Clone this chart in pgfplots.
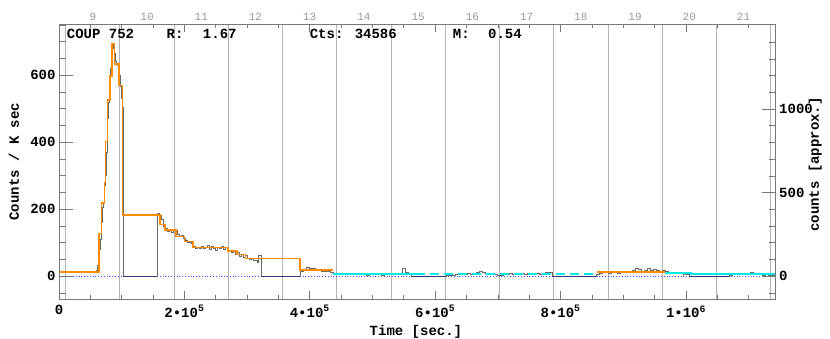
\documentclass[border=0pt]{standalone}
\usepackage{fontspec}
\setmainfont{Liberation Mono}
\usepackage{pgfplots}
\usepackage{pgfplotstable}
\pgfplotsset{compat=1.18}

\definecolor{bbo}{RGB}{255,140,0}
\definecolor{lcg}{RGB}{105,105,105}
\definecolor{cy}{RGB}{0,235,235}
\definecolor{gapc}{RGB}{55,55,120}
\definecolor{zl}{RGB}{70,70,255}
\definecolor{dayl}{RGB}{180,180,180}
\definecolor{frm}{RGB}{120,120,120}

% binned light curve (counts / ksec); zeros are data gaps
\pgfplotstableread{
t v
0 12
4800 11
9600 13
14400 12
19200 14
24000 12
28800 15
33600 13
38400 14
43200 12
48000 15
52800 14
57600 13
59200 18
60800 32
62400 45
64000 80
65600 110
67200 160
68800 205
70400 220
72000 270
73600 300
75200 370
76800 470
78400 520
80000 590
81600 620
83200 655
84800 680
86400 690
88000 665
89600 640
91200 636
92800 630
94400 622
96000 600
97600 566
99200 530
100800 505
102400 0
156500 188
159700 182
162900 170
166100 150
169300 142
172500 135
175700 140
178900 130
182100 136
185300 138
188500 125
191700 118
194900 122
198100 112
201300 108
204500 100
207700 102
210900 98
214100 88
217300 82
220500 86
223700 84
226900 90
230100 82
233300 86
236500 92
239700 80
242900 88
246100 84
249300 76
252500 86
255700 82
258900 90
262100 80
265300 86
268500 78
271700 74
274900 70
278100 78
281300 66
284500 72
287700 60
290900 66
294100 56
297300 62
300500 52
303700 50
306900 54
310100 46
313300 48
316500 42
318000 62
322800 0
384200 15
389000 20
393800 26
398600 22
403400 24
408200 18
413000 20
417800 16
422600 14
427400 15
432200 12
437000 10
441800 8
446600 9
451400 7
456200 8
461000 6
465800 9
470600 7
475400 5
480200 8
485000 6
489800 4
494600 7
499400 5
504200 6
509000 8
513800 4
518600 6
523400 5
528200 7
533000 8
537800 9
542600 10
547400 22
552200 12
557000 8
562100 0
617200 2
622000 4
626800 3
631600 6
636400 5
641200 8
646000 6
650800 9
655600 7
660400 10
665200 12
670000 16
674800 11
679600 9
684400 7
689200 8
694000 5
698800 4
703600 3
708400 6
713200 5
718000 8
722800 6
727600 7
732400 10
737200 8
742000 6
746800 9
751600 7
756400 8
761200 10
766000 7
770800 9
775600 11
780400 12
786600 0
856700 5
861500 8
866300 12
871100 16
875900 10
880700 14
885500 12
890300 9
895100 13
899900 11
904700 15
909500 14
914300 18
919100 22
923900 20
928700 16
933500 19
938300 24
943100 18
947900 20
952700 17
957500 15
962300 19
967100 14
971900 12
976700 10
981500 9
986300 11
991100 8
995900 6
1000700 5
1004800 0
1068500 3
1073300 5
1078100 6
1082900 8
1087700 6
1092500 7
1097300 10
1102100 12
1106900 8
1111700 5
1116500 6
1121300 4
1126100 5
1130900 3
1135700 4
1143000 3
}\lc

% Bayesian blocks
\pgfplotstableread{
t v
0 13
63700 128
68000 218
72100 280
73700 402
76900 526
81200 598
84400 693
88700 633
95500 569
101400 183
160800 155
168800 138
186300 118
200600 103
213900 85
269600 75
283900 64
297800 52
384300 18
436800 18
}\bb

\pgfplotsset{
  frame/.style={scale only axis, width=716.7pt, height=274.7pt,
    xmin=0, xmax=1143000, tick align=inside, scaled ticks=false,
    axis line style={frm, line width=0.9pt},
    every tick/.style={frm, line width=0.8pt},
    tick label style={font=\fontsize{14}{16}\selectfont\bfseries},
    label style={font=\fontsize{14}{16}\selectfont\bfseries}},
}

\begin{document}
\begin{tikzpicture}
% main axis: data, x ticks, left labels
\begin{axis}[frame, ymin=-68, ymax=752,
  xtick={0,200000,400000,600000,800000,1000000},
  xticklabels={0,2•10\textsuperscript{5},4•10\textsuperscript{5},6•10\textsuperscript{5},8•10\textsuperscript{5},1•10\textsuperscript{6}},
  xticklabel style={yshift=-3pt},
  minor xtick={50000,100000,150000,250000,300000,350000,450000,500000,550000,650000,700000,750000,850000,900000,950000,1050000,1100000},
  major tick length=8pt, minor tick length=4pt,
  xtick pos=both, xticklabel pos=bottom,
  ytick={0,200,400,600}, yticklabels={0,200,400,600},
  ytick pos=left, ytick style={draw=none},
  extra x ticks={10670,97150,183630,270110,356590,443070,529550,616030,702510,788990,875470,961950,1048430,1134910},
  extra x tick labels={},
  extra x tick style={grid=major, major grid style={dayl, line width=0.9pt}, tick style={draw=none}},
  xlabel={Time [sec.]}, ylabel={Counts / K sec},
  xlabel style={at={(axis description cs:0.498,-0.118)}, anchor=center},
  ylabel style={at={(axis description cs:-0.063,0.5)}, anchor=center},
]
\addplot[zl, dotted, line width=0.8pt] coordinates {(0,0) (1143000,0)};
\addplot[const plot mark left, lcg, line width=0.7pt] table {\lc};
\addplot[gapc, line width=0.9pt, unbounded coords=jump] coordinates {
  (102400,0) (156500,0) (nan,nan)
  (322800,0) (384200,0) (nan,nan)
  (562100,0) (617200,0) (nan,nan)
  (786600,0) (856700,0) (nan,nan)
  (1004800,0) (1068500,0)};
\addplot[const plot mark left, bbo, line width=1.4pt] table {\bb};
\addplot[const plot mark left, bbo, line width=1.4pt] coordinates {(858300,13) (966600,13)};
\addplot[const plot mark left, cy, line width=2pt] coordinates {(436800,8) (569600,8)};
\addplot[const plot mark left, cy, line width=2pt, dash pattern=on 9pt off 5pt] coordinates {(569600,8) (858300,8)};
\addplot[const plot mark left, cy, line width=2pt] coordinates {(966600,9) (1008000,9) (1008000,6) (1143000,6)};
\node[anchor=base west, inner sep=0, font=\fontsize{14}{16}\selectfont\bfseries] at (axis cs:12260,710) {COUP 752};
\node[anchor=base west, inner sep=0, font=\fontsize{14}{16}\selectfont\bfseries] at (axis cs:171500,710) {R:};
\node[anchor=base west, inner sep=0, font=\fontsize{14}{16}\selectfont\bfseries] at (axis cs:229300,710) {1.67};
\node[anchor=base west, inner sep=0, font=\fontsize{14}{16}\selectfont\bfseries] at (axis cs:399700,710) {Cts:};
\node[anchor=base west, inner sep=0, font=\fontsize{14}{16}\selectfont\bfseries] at (axis cs:471400,710) {34586};
\node[anchor=base west, inner sep=0, font=\fontsize{14}{16}\selectfont\bfseries] at (axis cs:627900,710) {M:};
\node[anchor=base west, inner sep=0, font=\fontsize{14}{16}\selectfont\bfseries] at (axis cs:684100,710) {0.54};
\end{axis}
% left y ticks
\begin{axis}[frame, ymin=-68, ymax=752, xtick=\empty,
  ytick={0,200,400,600}, yticklabels={}, ytick pos=left,
  minor ytick={-50,50,100,150,250,300,350,450,500,550,650,700,750},
  major tick length=14pt, minor tick length=7pt]
\end{axis}
% right y axis (approx. counts)
\begin{axis}[frame, ymin=-136, ymax=1507, axis x line=none, axis y line*=right,
  ytick={0,500,1000}, yticklabels={0,500,1000},
  minor ytick={-100,100,200,300,400,600,700,800,900,1100,1200,1300,1400},
  major tick length=14pt, minor tick length=7pt,
  ylabel={counts [approx.]},
  ylabel style={at={(axis description cs:1.055,0.49)}, anchor=center}]
\end{axis}
% top axis (days)
\begin{axis}[frame, ymin=0, ymax=1, axis y line=none, axis x line*=top,
  xtick={53910,140390,226870,313350,399830,486310,572790,659270,745750,832230,918710,1005190,1091670},
  xticklabels={9,10,11,12,13,14,15,16,17,18,19,20,21},
  xtick style={draw=none},
  xticklabel style={font=\fontsize{11}{12}\selectfont, text=gray!80}]
\end{axis}
\pgfresetboundingbox
\path (-59pt,-40pt) rectangle (771pt,299pt);
\end{tikzpicture}
\end{document}
